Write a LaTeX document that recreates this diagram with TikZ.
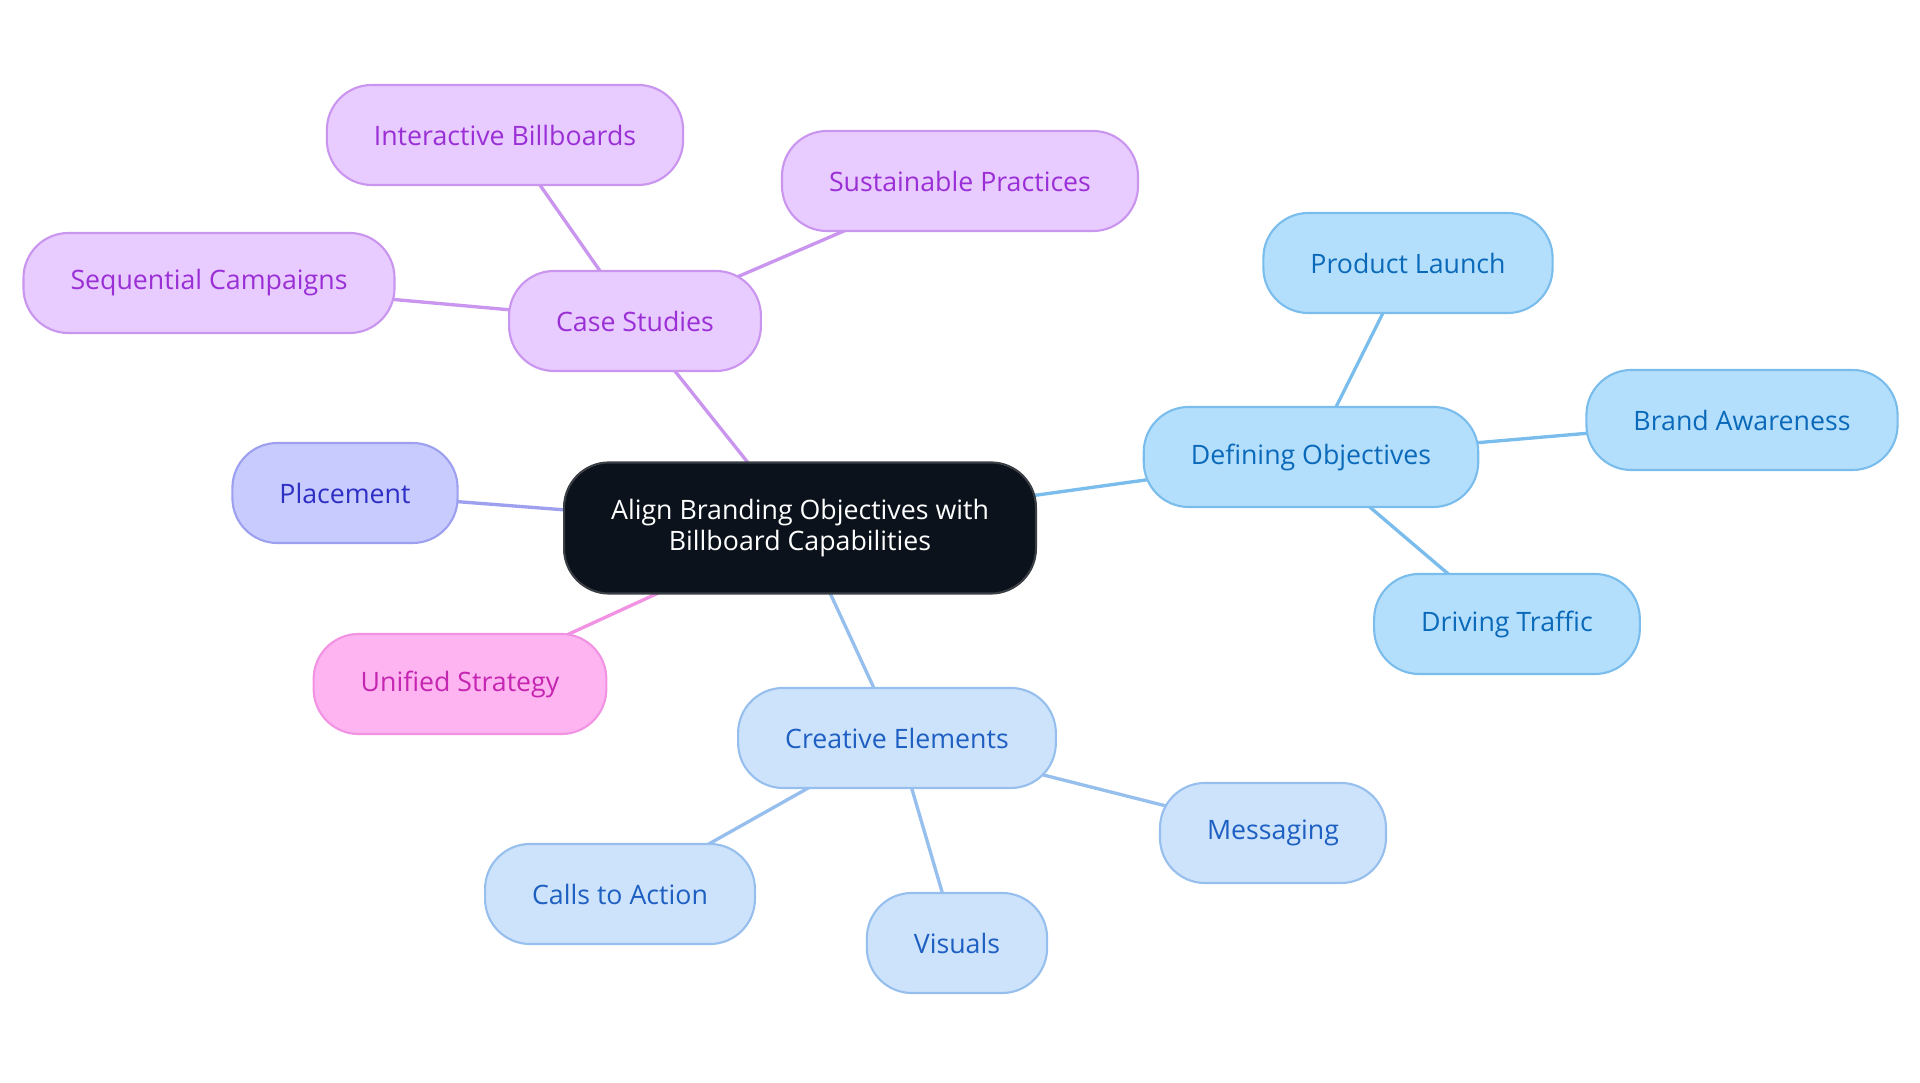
\documentclass[tikz,border=0pt]{standalone}
\usepackage{fontspec}
\setmainfont{Open Sans}
\usepackage{tikz}
\usetikzlibrary{backgrounds}
\definecolor{rootfill}{HTML}{0B121B}
\definecolor{rootdraw}{HTML}{3A3F45}
\definecolor{casefill}{HTML}{E8CBFF}
\definecolor{casedraw}{HTML}{C995EE}
\definecolor{casetext}{HTML}{9A2FD6}
\definecolor{objfill}{HTML}{B3DFFD}
\definecolor{objdraw}{HTML}{7ABDEC}
\definecolor{objtext}{HTML}{0B69B9}
\definecolor{crefill}{HTML}{CDE3FB}
\definecolor{credraw}{HTML}{96BFEE}
\definecolor{cretext}{HTML}{1E5FC2}
\definecolor{plcfill}{HTML}{C8CBFE}
\definecolor{plcdraw}{HTML}{9CA0EF}
\definecolor{plctext}{HTML}{2D2EC4}
\definecolor{unifill}{HTML}{FEB4F1}
\definecolor{unidraw}{HTML}{F192E2}
\definecolor{unitext}{HTML}{C425B1}
\tikzset{
  topic/.style args={#1/#2/#3}{
    rectangle, draw=#2, fill=#1, text=#3, line width=0.6pt,
    minimum height=1cm, inner xsep=0.47cm,
    rounded corners=0.45cm, align=center,
    font=\fontsize{7.6}{8.8}\selectfont,
  },
  root/.style={
    topic=rootfill/rootdraw/white, minimum height=1.31cm,
  },
  link/.style={line width=0.95pt, draw=#1},
}
\begin{document}
\begin{tikzpicture}[x=0.01cm, y=-0.01cm]
\useasboundingbox (0,0) rectangle (1920,1083);

% ===== Root =====
\node[root] (root) at (800,528) {Align Branding Objectives with\\Billboard Capabilities};

% ===== Case studies =====
\node[topic=casefill/casedraw/casetext] (cases) at (635,321) {Case Studies};
\node[topic=casefill/casedraw/casetext] (interact) at (505,135) {Interactive Billboards};
\node[topic=casefill/casedraw/casetext] (sustain) at (960,181) {Sustainable Practices};
\node[topic=casefill/casedraw/casetext] (sequent) at (209,283) {Sequential Campaigns};

% ===== Objectives =====
\node[topic=objfill/objdraw/objtext] (defobj) at (1311,457) {Defining Objectives};
\node[topic=objfill/objdraw/objtext] (launch) at (1408,263) {Product Launch};
\node[topic=objfill/objdraw/objtext] (aware) at (1742,420) {Brand Awareness};
\node[topic=objfill/objdraw/objtext] (traffic) at (1507,624) {Driving Traffic};

% ===== Creative =====
\node[topic=crefill/credraw/cretext] (creative) at (897,738) {Creative Elements};
\node[topic=crefill/credraw/cretext] (calls) at (620,894) {Calls to Action};
\node[topic=crefill/credraw/cretext] (visuals) at (957,943) {Visuals};
\node[topic=crefill/credraw/cretext] (message) at (1273,833) {Messaging};

% ===== Others =====
\node[topic=plcfill/plcdraw/plctext] (place) at (345,493) {Placement};
\node[topic=unifill/unidraw/unitext] (unified) at (460,684) {Unified Strategy};

\begin{scope}[on background layer]
  \draw[link=casedraw] (root.center) -- (cases.center);
  \draw[link=casedraw] (cases.center) -- (interact.center);
  \draw[link=casedraw] (cases.center) -- (sustain.center);
  \draw[link=casedraw] (cases.center) -- (sequent.center);
  \draw[link=objdraw] (root.center) -- (defobj.center);
  \draw[link=objdraw] (defobj.center) -- (launch.center);
  \draw[link=objdraw] (defobj.center) -- (aware.center);
  \draw[link=objdraw] (defobj.center) -- (traffic.center);
  \draw[link=credraw] (root.center) -- (creative.center);
  \draw[link=credraw] (creative.center) -- (calls.center);
  \draw[link=credraw] (creative.center) -- (visuals.center);
  \draw[link=credraw] (creative.center) -- (message.center);
  \draw[link=plcdraw] (root.center) -- (place.center);
  \draw[link=unidraw] (root.center) -- (unified.center);
\end{scope}

\end{tikzpicture}
\end{document}
